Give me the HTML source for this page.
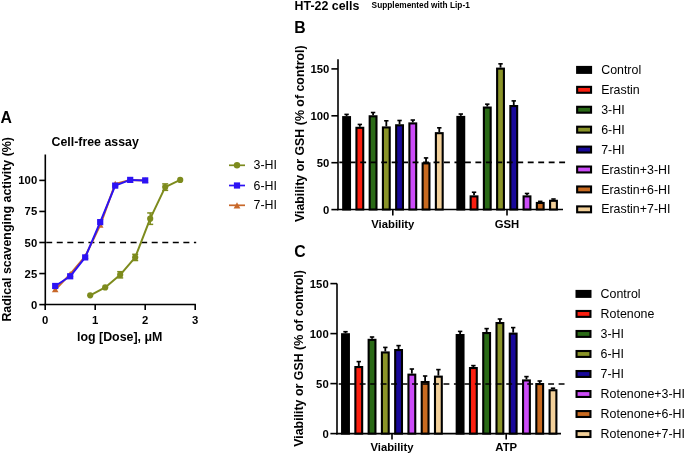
<!DOCTYPE html>
<html><head><meta charset="utf-8"><style>
html,body{margin:0;padding:0;background:#fff;}
svg{display:block;font-family:"Liberation Sans", sans-serif;will-change:transform;}
</style></head><body>
<svg width="685" height="455" viewBox="0 0 685 455">
<rect width="685" height="455" fill="#fff"/>
<text x="0.6" y="123.4" font-size="15.8" font-weight="bold" text-anchor="start" >A</text>
<text x="51.6" y="145.9" font-size="12.35" font-weight="bold" text-anchor="start" >Cell-free assay</text>
<line x1="45.3" y1="154.5" x2="45.3" y2="305.3" stroke="#000" stroke-width="1.6"/>
<line x1="44.5" y1="304.5" x2="195.9" y2="304.5" stroke="#000" stroke-width="1.6"/>
<line x1="39.3" y1="304.60" x2="45.3" y2="304.60" stroke="#000" stroke-width="1.6"/>
<text x="37.2" y="308.6" font-size="11.3" font-weight="bold" text-anchor="end" >0</text>
<line x1="39.3" y1="273.55" x2="45.3" y2="273.55" stroke="#000" stroke-width="1.6"/>
<text x="37.2" y="277.55" font-size="11.3" font-weight="bold" text-anchor="end" >25</text>
<line x1="39.3" y1="242.50" x2="45.3" y2="242.50" stroke="#000" stroke-width="1.6"/>
<text x="37.2" y="246.50000000000003" font-size="11.3" font-weight="bold" text-anchor="end" >50</text>
<line x1="39.3" y1="211.45" x2="45.3" y2="211.45" stroke="#000" stroke-width="1.6"/>
<text x="37.2" y="215.45000000000002" font-size="11.3" font-weight="bold" text-anchor="end" >75</text>
<line x1="39.3" y1="180.40" x2="45.3" y2="180.40" stroke="#000" stroke-width="1.6"/>
<text x="37.2" y="184.40000000000003" font-size="11.3" font-weight="bold" text-anchor="end" >100</text>
<line x1="45.20" y1="304.5" x2="45.20" y2="310" stroke="#000" stroke-width="1.6"/>
<text x="45.2" y="323.6" font-size="11.3" font-weight="bold" text-anchor="middle" >0</text>
<line x1="95.20" y1="304.5" x2="95.20" y2="310" stroke="#000" stroke-width="1.6"/>
<text x="95.2" y="323.6" font-size="11.3" font-weight="bold" text-anchor="middle" >1</text>
<line x1="145.20" y1="304.5" x2="145.20" y2="310" stroke="#000" stroke-width="1.6"/>
<text x="145.2" y="323.6" font-size="11.3" font-weight="bold" text-anchor="middle" >2</text>
<line x1="195.20" y1="304.5" x2="195.20" y2="310" stroke="#000" stroke-width="1.6"/>
<text x="195.2" y="323.6" font-size="11.3" font-weight="bold" text-anchor="middle" >3</text>
<text x="162.4" y="341.4" font-size="12.4" font-weight="bold" text-anchor="end" >log [Dose], μM</text>
<text transform="translate(11.0,321.6) rotate(-90)" font-size="12.4" font-weight="bold">Radical scavenging activity (%)</text>
<line x1="45.3" y1="242.50" x2="196.2" y2="242.50" stroke="#000" stroke-width="1.7" stroke-dasharray="6 4.55" stroke-dashoffset="9.65"/>
<polyline points="55.20,289.70 70.20,274.17 85.20,256.41 100.20,225.11 115.20,183.88 130.20,179.90 145.20,180.40" fill="none" stroke="#c8682a" stroke-width="2" stroke-linejoin="round"/>
<polygon points="51.90,292.30 58.50,292.30 55.20,286.50" fill="#c8682a"/>
<polygon points="66.90,276.77 73.50,276.77 70.20,270.97" fill="#c8682a"/>
<polygon points="81.90,259.01 88.50,259.01 85.20,253.21" fill="#c8682a"/>
<polygon points="96.90,227.71 103.50,227.71 100.20,221.91" fill="#c8682a"/>
<polygon points="111.90,186.48 118.50,186.48 115.20,180.68" fill="#c8682a"/>
<polygon points="126.90,182.50 133.50,182.50 130.20,176.70" fill="#c8682a"/>
<polygon points="141.90,183.00 148.50,183.00 145.20,177.20" fill="#c8682a"/>
<polyline points="55.20,285.97 70.20,276.28 85.20,257.40 100.20,222.13 115.20,185.62 130.20,179.90 145.20,180.40" fill="none" stroke="#2c12f4" stroke-width="2" stroke-linejoin="round"/>
<rect x="52.10" y="282.87" width="6.2" height="6.2" fill="#2c12f4"/>
<rect x="67.10" y="273.18" width="6.2" height="6.2" fill="#2c12f4"/>
<rect x="82.10" y="254.30" width="6.2" height="6.2" fill="#2c12f4"/>
<rect x="97.10" y="219.03" width="6.2" height="6.2" fill="#2c12f4"/>
<rect x="112.10" y="182.52" width="6.2" height="6.2" fill="#2c12f4"/>
<rect x="127.10" y="176.80" width="6.2" height="6.2" fill="#2c12f4"/>
<rect x="142.10" y="177.30" width="6.2" height="6.2" fill="#2c12f4"/>
<polyline points="90.20,295.29 105.20,287.46 120.20,274.79 135.20,257.40 150.20,218.65 165.20,187.11 180.20,179.90" fill="none" stroke="#7d8b1d" stroke-width="2" stroke-linejoin="round"/>
<circle cx="90.20" cy="295.29" r="3.1" fill="#7d8b1d"/>
<circle cx="105.20" cy="287.46" r="3.1" fill="#7d8b1d"/>
<line x1="120.20" y1="271.69" x2="120.20" y2="277.90" stroke="#7d8b1d" stroke-width="1.5"/>
<line x1="117.20" y1="271.69" x2="123.20" y2="271.69" stroke="#7d8b1d" stroke-width="1.5"/>
<line x1="117.20" y1="277.90" x2="123.20" y2="277.90" stroke="#7d8b1d" stroke-width="1.5"/>
<circle cx="120.20" cy="274.79" r="3.1" fill="#7d8b1d"/>
<line x1="135.20" y1="254.30" x2="135.20" y2="260.51" stroke="#7d8b1d" stroke-width="1.5"/>
<line x1="132.20" y1="254.30" x2="138.20" y2="254.30" stroke="#7d8b1d" stroke-width="1.5"/>
<line x1="132.20" y1="260.51" x2="138.20" y2="260.51" stroke="#7d8b1d" stroke-width="1.5"/>
<circle cx="135.20" cy="257.40" r="3.1" fill="#7d8b1d"/>
<line x1="150.20" y1="212.94" x2="150.20" y2="224.37" stroke="#7d8b1d" stroke-width="1.5"/>
<line x1="147.20" y1="212.94" x2="153.20" y2="212.94" stroke="#7d8b1d" stroke-width="1.5"/>
<line x1="147.20" y1="224.37" x2="153.20" y2="224.37" stroke="#7d8b1d" stroke-width="1.5"/>
<circle cx="150.20" cy="218.65" r="3.1" fill="#7d8b1d"/>
<line x1="165.20" y1="183.88" x2="165.20" y2="190.34" stroke="#7d8b1d" stroke-width="1.5"/>
<line x1="162.20" y1="183.88" x2="168.20" y2="183.88" stroke="#7d8b1d" stroke-width="1.5"/>
<line x1="162.20" y1="190.34" x2="168.20" y2="190.34" stroke="#7d8b1d" stroke-width="1.5"/>
<circle cx="165.20" cy="187.11" r="3.1" fill="#7d8b1d"/>
<circle cx="180.20" cy="179.90" r="3.1" fill="#7d8b1d"/>
<line x1="229" y1="165.3" x2="245" y2="165.3" stroke="#7d8b1d" stroke-width="1.7"/>
<circle cx="237" cy="165.3" r="3.2" fill="#7d8b1d"/>
<text x="253.6" y="169.3" font-size="12.4" font-weight="normal" text-anchor="start" >3-HI</text>
<line x1="229" y1="185.5" x2="245" y2="185.5" stroke="#2c12f4" stroke-width="1.7"/>
<rect x="233.9" y="182.4" width="6.2" height="6.2" fill="#2c12f4"/>
<text x="253.6" y="189.5" font-size="12.4" font-weight="normal" text-anchor="start" >6-HI</text>
<line x1="229" y1="205.3" x2="245" y2="205.3" stroke="#c8682a" stroke-width="1.7"/>
<polygon points="233.60,208.60 240.40,208.60 237.00,202.30" fill="#c8682a"/>
<text x="253.6" y="209.3" font-size="12.4" font-weight="normal" text-anchor="start" >7-HI</text>
<text x="294.6" y="9.9" font-size="12.4" font-weight="bold" text-anchor="start" >HT-22 cells</text>
<text x="371.6" y="8.3" font-size="8.3" font-weight="bold" text-anchor="start" >Supplemented with Lip-1</text>
<text x="294.2" y="32.6" font-size="15.8" font-weight="bold" text-anchor="start" >B</text>
<line x1="338" y1="59.2" x2="338" y2="210.3" stroke="#000" stroke-width="1.6"/>
<line x1="337.2" y1="209.5" x2="563" y2="209.5" stroke="#000" stroke-width="1.6"/>
<line x1="331.4" y1="209.60" x2="338" y2="209.60" stroke="#000" stroke-width="1.6"/>
<text x="329.3" y="213.6" font-size="11.3" font-weight="bold" text-anchor="end" >0</text>
<line x1="331.4" y1="162.70" x2="338" y2="162.70" stroke="#000" stroke-width="1.6"/>
<text x="329.3" y="166.7" font-size="11.3" font-weight="bold" text-anchor="end" >50</text>
<line x1="331.4" y1="115.80" x2="338" y2="115.80" stroke="#000" stroke-width="1.6"/>
<text x="329.3" y="119.8" font-size="11.3" font-weight="bold" text-anchor="end" >100</text>
<line x1="331.4" y1="68.90" x2="338" y2="68.90" stroke="#000" stroke-width="1.6"/>
<text x="329.3" y="72.9" font-size="11.3" font-weight="bold" text-anchor="end" >150</text>
<line x1="346.60" y1="114.39" x2="346.60" y2="116.08" stroke="#000" stroke-width="1.8"/>
<line x1="344.40" y1="114.39" x2="348.80" y2="114.39" stroke="#000" stroke-width="1.6"/>
<rect x="343.20" y="117.13" width="6.80" height="92.37" fill="#000000" stroke="#000" stroke-width="2.1"/>
<line x1="359.84" y1="124.43" x2="359.84" y2="126.77" stroke="#000" stroke-width="1.8"/>
<line x1="357.64" y1="124.43" x2="362.04" y2="124.43" stroke="#000" stroke-width="1.6"/>
<rect x="356.44" y="127.82" width="6.80" height="81.68" fill="#fb1f10" stroke="#000" stroke-width="2.1"/>
<line x1="373.08" y1="112.52" x2="373.08" y2="115.24" stroke="#000" stroke-width="1.8"/>
<line x1="370.88" y1="112.52" x2="375.28" y2="112.52" stroke="#000" stroke-width="1.6"/>
<rect x="369.68" y="116.29" width="6.80" height="93.21" fill="#2a6a16" stroke="#000" stroke-width="2.1"/>
<line x1="386.32" y1="120.77" x2="386.32" y2="126.40" stroke="#000" stroke-width="1.8"/>
<line x1="384.12" y1="120.77" x2="388.52" y2="120.77" stroke="#000" stroke-width="1.6"/>
<rect x="382.92" y="127.45" width="6.80" height="82.05" fill="#8a9428" stroke="#000" stroke-width="2.1"/>
<line x1="399.56" y1="120.49" x2="399.56" y2="124.24" stroke="#000" stroke-width="1.8"/>
<line x1="397.36" y1="120.49" x2="401.76" y2="120.49" stroke="#000" stroke-width="1.6"/>
<rect x="396.16" y="125.29" width="6.80" height="84.21" fill="#18089a" stroke="#000" stroke-width="2.1"/>
<line x1="412.80" y1="120.02" x2="412.80" y2="122.37" stroke="#000" stroke-width="1.8"/>
<line x1="410.60" y1="120.02" x2="415.00" y2="120.02" stroke="#000" stroke-width="1.6"/>
<rect x="409.40" y="123.42" width="6.80" height="86.08" fill="#cc4cf8" stroke="#000" stroke-width="2.1"/>
<line x1="426.04" y1="157.92" x2="426.04" y2="162.32" stroke="#000" stroke-width="1.8"/>
<line x1="423.84" y1="157.92" x2="428.24" y2="157.92" stroke="#000" stroke-width="1.6"/>
<rect x="422.64" y="163.37" width="6.80" height="46.13" fill="#c86a20" stroke="#000" stroke-width="2.1"/>
<line x1="439.28" y1="127.81" x2="439.28" y2="132.12" stroke="#000" stroke-width="1.8"/>
<line x1="437.08" y1="127.81" x2="441.48" y2="127.81" stroke="#000" stroke-width="1.6"/>
<rect x="435.88" y="133.17" width="6.80" height="76.33" fill="#f2d09a" stroke="#000" stroke-width="2.1"/>
<line x1="460.80" y1="114.02" x2="460.80" y2="115.89" stroke="#000" stroke-width="1.8"/>
<line x1="458.60" y1="114.02" x2="463.00" y2="114.02" stroke="#000" stroke-width="1.6"/>
<rect x="457.40" y="116.94" width="6.80" height="92.56" fill="#000000" stroke="#000" stroke-width="2.1"/>
<line x1="474.04" y1="192.25" x2="474.04" y2="195.34" stroke="#000" stroke-width="1.8"/>
<line x1="471.84" y1="192.25" x2="476.24" y2="192.25" stroke="#000" stroke-width="1.6"/>
<rect x="470.64" y="196.39" width="6.80" height="13.11" fill="#fb1f10" stroke="#000" stroke-width="2.1"/>
<line x1="487.28" y1="104.17" x2="487.28" y2="106.51" stroke="#000" stroke-width="1.8"/>
<line x1="485.08" y1="104.17" x2="489.48" y2="104.17" stroke="#000" stroke-width="1.6"/>
<rect x="483.88" y="107.56" width="6.80" height="101.94" fill="#2a6a16" stroke="#000" stroke-width="2.1"/>
<line x1="500.52" y1="63.83" x2="500.52" y2="67.59" stroke="#000" stroke-width="1.8"/>
<line x1="498.32" y1="63.83" x2="502.72" y2="63.83" stroke="#000" stroke-width="1.6"/>
<rect x="497.12" y="68.64" width="6.80" height="140.86" fill="#8a9428" stroke="#000" stroke-width="2.1"/>
<line x1="513.76" y1="100.89" x2="513.76" y2="105.01" stroke="#000" stroke-width="1.8"/>
<line x1="511.56" y1="100.89" x2="515.96" y2="100.89" stroke="#000" stroke-width="1.6"/>
<rect x="510.36" y="106.06" width="6.80" height="103.44" fill="#18089a" stroke="#000" stroke-width="2.1"/>
<line x1="527.00" y1="193.47" x2="527.00" y2="195.34" stroke="#000" stroke-width="1.8"/>
<line x1="524.80" y1="193.47" x2="529.20" y2="193.47" stroke="#000" stroke-width="1.6"/>
<rect x="523.60" y="196.39" width="6.80" height="13.11" fill="#cc4cf8" stroke="#000" stroke-width="2.1"/>
<line x1="540.24" y1="201.35" x2="540.24" y2="201.91" stroke="#000" stroke-width="1.8"/>
<line x1="538.04" y1="201.35" x2="542.44" y2="201.35" stroke="#000" stroke-width="1.6"/>
<rect x="536.84" y="202.96" width="6.80" height="6.54" fill="#c86a20" stroke="#000" stroke-width="2.1"/>
<line x1="553.48" y1="199.00" x2="553.48" y2="199.75" stroke="#000" stroke-width="1.8"/>
<line x1="551.28" y1="199.00" x2="555.68" y2="199.00" stroke="#000" stroke-width="1.6"/>
<rect x="550.08" y="200.80" width="6.80" height="8.70" fill="#f2d09a" stroke="#000" stroke-width="2.1"/>
<line x1="392.8" y1="209.5" x2="392.8" y2="215.5" stroke="#000" stroke-width="1.6"/>
<text x="392.8" y="227.6" font-size="11.3" font-weight="bold" text-anchor="middle" >Viability</text>
<line x1="507.0" y1="209.5" x2="507.0" y2="215.5" stroke="#000" stroke-width="1.6"/>
<text x="507.0" y="227.6" font-size="11.3" font-weight="bold" text-anchor="middle" >GSH</text>
<line x1="338" y1="162.3" x2="565.2" y2="162.3" stroke="#000" stroke-width="1.7" stroke-dasharray="5.9 4.57" stroke-dashoffset="9.17"/>
<text transform="translate(304.3,222.1) rotate(-90)" font-size="12.4" font-weight="bold">Viability or GSH (% of control)</text>
<rect x="577.15" y="66.95" width="13.9" height="5.9" fill="#000000" stroke="#000" stroke-width="2.1"/>
<text x="601.1999999999999" y="74.0" font-size="12.4" font-weight="normal" text-anchor="start" >Control</text>
<rect x="577.15" y="86.87" width="13.9" height="5.9" fill="#fb1f10" stroke="#000" stroke-width="2.1"/>
<text x="601.1999999999999" y="93.92" font-size="12.4" font-weight="normal" text-anchor="start" >Erastin</text>
<rect x="577.15" y="106.79" width="13.9" height="5.9" fill="#2a6a16" stroke="#000" stroke-width="2.1"/>
<text x="601.1999999999999" y="113.84" font-size="12.4" font-weight="normal" text-anchor="start" >3-HI</text>
<rect x="577.15" y="126.71" width="13.9" height="5.9" fill="#8a9428" stroke="#000" stroke-width="2.1"/>
<text x="601.1999999999999" y="133.76000000000002" font-size="12.4" font-weight="normal" text-anchor="start" >6-HI</text>
<rect x="577.15" y="146.63" width="13.9" height="5.9" fill="#18089a" stroke="#000" stroke-width="2.1"/>
<text x="601.1999999999999" y="153.68" font-size="12.4" font-weight="normal" text-anchor="start" >7-HI</text>
<rect x="577.15" y="166.55" width="13.9" height="5.9" fill="#cc4cf8" stroke="#000" stroke-width="2.1"/>
<text x="601.1999999999999" y="173.6" font-size="12.4" font-weight="normal" text-anchor="start" >Erastin+3-HI</text>
<rect x="577.15" y="186.47" width="13.9" height="5.9" fill="#c86a20" stroke="#000" stroke-width="2.1"/>
<text x="601.1999999999999" y="193.52" font-size="12.4" font-weight="normal" text-anchor="start" >Erastin+6-HI</text>
<rect x="577.15" y="206.39" width="13.9" height="5.9" fill="#f2d09a" stroke="#000" stroke-width="2.1"/>
<text x="601.1999999999999" y="213.44" font-size="12.4" font-weight="normal" text-anchor="start" >Erastin+7-HI</text>
<text x="294.2" y="256.9" font-size="15.8" font-weight="bold" text-anchor="start" >C</text>
<line x1="337" y1="283.6" x2="337" y2="434.40000000000003" stroke="#000" stroke-width="1.6"/>
<line x1="336.2" y1="433.6" x2="561" y2="433.6" stroke="#000" stroke-width="1.6"/>
<line x1="330.4" y1="433.60" x2="337" y2="433.60" stroke="#000" stroke-width="1.6"/>
<text x="328.7" y="437.6" font-size="11.3" font-weight="bold" text-anchor="end" >0</text>
<line x1="330.4" y1="383.60" x2="337" y2="383.60" stroke="#000" stroke-width="1.6"/>
<text x="328.7" y="387.6" font-size="11.3" font-weight="bold" text-anchor="end" >50</text>
<line x1="330.4" y1="333.60" x2="337" y2="333.60" stroke="#000" stroke-width="1.6"/>
<text x="328.7" y="337.6" font-size="11.3" font-weight="bold" text-anchor="end" >100</text>
<line x1="330.4" y1="283.60" x2="337" y2="283.60" stroke="#000" stroke-width="1.6"/>
<text x="328.7" y="287.6" font-size="11.3" font-weight="bold" text-anchor="end" >150</text>
<line x1="345.50" y1="331.70" x2="345.50" y2="333.20" stroke="#000" stroke-width="1.8"/>
<line x1="343.30" y1="331.70" x2="347.70" y2="331.70" stroke="#000" stroke-width="1.6"/>
<rect x="342.10" y="334.25" width="6.80" height="99.35" fill="#000000" stroke="#000" stroke-width="2.1"/>
<line x1="358.77" y1="361.60" x2="358.77" y2="366.00" stroke="#000" stroke-width="1.8"/>
<line x1="356.57" y1="361.60" x2="360.97" y2="361.60" stroke="#000" stroke-width="1.6"/>
<rect x="355.37" y="367.05" width="6.80" height="66.55" fill="#fb1f10" stroke="#000" stroke-width="2.1"/>
<line x1="372.04" y1="337.00" x2="372.04" y2="338.80" stroke="#000" stroke-width="1.8"/>
<line x1="369.84" y1="337.00" x2="374.24" y2="337.00" stroke="#000" stroke-width="1.6"/>
<rect x="368.64" y="339.85" width="6.80" height="93.75" fill="#2a6a16" stroke="#000" stroke-width="2.1"/>
<line x1="385.31" y1="347.40" x2="385.31" y2="351.40" stroke="#000" stroke-width="1.8"/>
<line x1="383.11" y1="347.40" x2="387.51" y2="347.40" stroke="#000" stroke-width="1.6"/>
<rect x="381.91" y="352.45" width="6.80" height="81.15" fill="#8a9428" stroke="#000" stroke-width="2.1"/>
<line x1="398.58" y1="345.60" x2="398.58" y2="349.00" stroke="#000" stroke-width="1.8"/>
<line x1="396.38" y1="345.60" x2="400.78" y2="345.60" stroke="#000" stroke-width="1.6"/>
<rect x="395.18" y="350.05" width="6.80" height="83.55" fill="#18089a" stroke="#000" stroke-width="2.1"/>
<line x1="411.85" y1="369.00" x2="411.85" y2="373.60" stroke="#000" stroke-width="1.8"/>
<line x1="409.65" y1="369.00" x2="414.05" y2="369.00" stroke="#000" stroke-width="1.6"/>
<rect x="408.45" y="374.65" width="6.80" height="58.95" fill="#cc4cf8" stroke="#000" stroke-width="2.1"/>
<line x1="425.12" y1="376.00" x2="425.12" y2="381.00" stroke="#000" stroke-width="1.8"/>
<line x1="422.92" y1="376.00" x2="427.32" y2="376.00" stroke="#000" stroke-width="1.6"/>
<rect x="421.72" y="382.05" width="6.80" height="51.55" fill="#c86a20" stroke="#000" stroke-width="2.1"/>
<line x1="438.39" y1="369.60" x2="438.39" y2="375.60" stroke="#000" stroke-width="1.8"/>
<line x1="436.19" y1="369.60" x2="440.59" y2="369.60" stroke="#000" stroke-width="1.6"/>
<rect x="434.99" y="376.65" width="6.80" height="56.95" fill="#f2d09a" stroke="#000" stroke-width="2.1"/>
<line x1="460.10" y1="331.40" x2="460.10" y2="334.00" stroke="#000" stroke-width="1.8"/>
<line x1="457.90" y1="331.40" x2="462.30" y2="331.40" stroke="#000" stroke-width="1.6"/>
<rect x="456.70" y="335.05" width="6.80" height="98.55" fill="#000000" stroke="#000" stroke-width="2.1"/>
<line x1="473.37" y1="365.60" x2="473.37" y2="367.00" stroke="#000" stroke-width="1.8"/>
<line x1="471.17" y1="365.60" x2="475.57" y2="365.60" stroke="#000" stroke-width="1.6"/>
<rect x="469.97" y="368.05" width="6.80" height="65.55" fill="#fb1f10" stroke="#000" stroke-width="2.1"/>
<line x1="486.64" y1="328.60" x2="486.64" y2="332.00" stroke="#000" stroke-width="1.8"/>
<line x1="484.44" y1="328.60" x2="488.84" y2="328.60" stroke="#000" stroke-width="1.6"/>
<rect x="483.24" y="333.05" width="6.80" height="100.55" fill="#2a6a16" stroke="#000" stroke-width="2.1"/>
<line x1="499.91" y1="319.00" x2="499.91" y2="322.00" stroke="#000" stroke-width="1.8"/>
<line x1="497.71" y1="319.00" x2="502.11" y2="319.00" stroke="#000" stroke-width="1.6"/>
<rect x="496.51" y="323.05" width="6.80" height="110.55" fill="#8a9428" stroke="#000" stroke-width="2.1"/>
<line x1="513.18" y1="327.60" x2="513.18" y2="332.60" stroke="#000" stroke-width="1.8"/>
<line x1="510.98" y1="327.60" x2="515.38" y2="327.60" stroke="#000" stroke-width="1.6"/>
<rect x="509.78" y="333.65" width="6.80" height="99.95" fill="#18089a" stroke="#000" stroke-width="2.1"/>
<line x1="526.45" y1="376.60" x2="526.45" y2="379.40" stroke="#000" stroke-width="1.8"/>
<line x1="524.25" y1="376.60" x2="528.65" y2="376.60" stroke="#000" stroke-width="1.6"/>
<rect x="523.05" y="380.45" width="6.80" height="53.15" fill="#cc4cf8" stroke="#000" stroke-width="2.1"/>
<line x1="539.72" y1="381.00" x2="539.72" y2="383.00" stroke="#000" stroke-width="1.8"/>
<line x1="537.52" y1="381.00" x2="541.92" y2="381.00" stroke="#000" stroke-width="1.6"/>
<rect x="536.32" y="384.05" width="6.80" height="49.55" fill="#c86a20" stroke="#000" stroke-width="2.1"/>
<line x1="552.99" y1="388.20" x2="552.99" y2="389.20" stroke="#000" stroke-width="1.8"/>
<line x1="550.79" y1="388.20" x2="555.19" y2="388.20" stroke="#000" stroke-width="1.6"/>
<rect x="549.59" y="390.25" width="6.80" height="43.35" fill="#f2d09a" stroke="#000" stroke-width="2.1"/>
<line x1="392.0" y1="433.6" x2="392.0" y2="439.6" stroke="#000" stroke-width="1.6"/>
<text x="392.0" y="451.0" font-size="11.3" font-weight="bold" text-anchor="middle" >Viability</text>
<line x1="506.2" y1="433.6" x2="506.2" y2="439.6" stroke="#000" stroke-width="1.6"/>
<text x="506.2" y="451.0" font-size="11.3" font-weight="bold" text-anchor="middle" >ATP</text>
<line x1="337" y1="384.0" x2="565.4" y2="384.0" stroke="#000" stroke-width="1.7" stroke-dasharray="5.9 4.57" stroke-dashoffset="8.72"/>
<text transform="translate(303.3,446.8) rotate(-90)" font-size="12.4" font-weight="bold">Viability or GSH (% of control)</text>
<rect x="576.55" y="290.95" width="13.9" height="5.9" fill="#000000" stroke="#000" stroke-width="2.1"/>
<text x="600.5999999999999" y="298.0" font-size="12.4" font-weight="normal" text-anchor="start" >Control</text>
<rect x="576.55" y="310.97" width="13.9" height="5.9" fill="#fb1f10" stroke="#000" stroke-width="2.1"/>
<text x="600.5999999999999" y="318.02" font-size="12.4" font-weight="normal" text-anchor="start" >Rotenone</text>
<rect x="576.55" y="330.99" width="13.9" height="5.9" fill="#2a6a16" stroke="#000" stroke-width="2.1"/>
<text x="600.5999999999999" y="338.04" font-size="12.4" font-weight="normal" text-anchor="start" >3-HI</text>
<rect x="576.55" y="351.01" width="13.9" height="5.9" fill="#8a9428" stroke="#000" stroke-width="2.1"/>
<text x="600.5999999999999" y="358.06" font-size="12.4" font-weight="normal" text-anchor="start" >6-HI</text>
<rect x="576.55" y="371.03" width="13.9" height="5.9" fill="#18089a" stroke="#000" stroke-width="2.1"/>
<text x="600.5999999999999" y="378.08" font-size="12.4" font-weight="normal" text-anchor="start" >7-HI</text>
<rect x="576.55" y="391.05" width="13.9" height="5.9" fill="#cc4cf8" stroke="#000" stroke-width="2.1"/>
<text x="600.5999999999999" y="398.1" font-size="12.4" font-weight="normal" text-anchor="start" >Rotenone+3-HI</text>
<rect x="576.55" y="411.07" width="13.9" height="5.9" fill="#c86a20" stroke="#000" stroke-width="2.1"/>
<text x="600.5999999999999" y="418.12" font-size="12.4" font-weight="normal" text-anchor="start" >Rotenone+6-HI</text>
<rect x="576.55" y="431.09" width="13.9" height="5.9" fill="#f2d09a" stroke="#000" stroke-width="2.1"/>
<text x="600.5999999999999" y="438.14" font-size="12.4" font-weight="normal" text-anchor="start" >Rotenone+7-HI</text>
</svg>
</body></html>
